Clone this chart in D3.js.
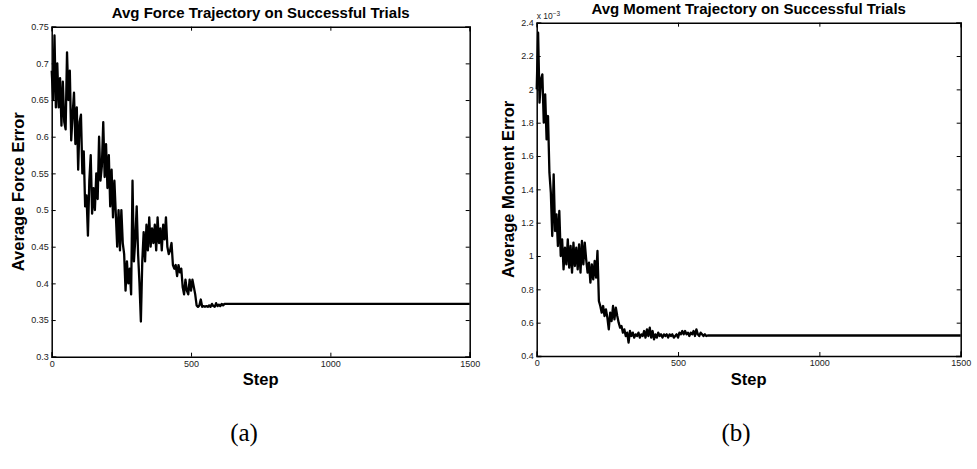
<!DOCTYPE html>
<html><head><meta charset="utf-8">
<script src="https://cdn.jsdelivr.net/npm/d3@7"></script>
<style>body{margin:0;background:#fff}svg{display:block}</style>
</head><body>
<script>
// ---------- data ----------
const xTicks = [0, 500, 1000, 1500];
const forceTicks = [0.3,0.35,0.4,0.45,0.5,0.55,0.6,0.65,0.7,0.75];
const forceTickLabels = ["0.3","0.35","0.4","0.45","0.5","0.55","0.6","0.65","0.7","0.75"];
const momentTicks = [0.4,0.6,0.8,1,1.2,1.4,1.6,1.8,2,2.2,2.4];
const momentTickLabels = ["0.4","0.6","0.8","1","1.2","1.4","1.6","1.8","2","2.2","2.4"];

const forceSteps = [0,5,10,15,20,25,30,35,40,45,50,55,60,65,70,75,80,85,90,95,100,105,110,115,120,125,130,135,140,145,150,155,160,165,170,175,180,185,190,195,200,205,210,215,220,225,230,235,240,245,250,255,260,265,270,275,280,285,290,295,300,305,310,315,320,325,330,335,340,345,350,355,360,365,370,375,380,385,390,395,400,405,410,415,420,425,430,435,440,445,450,455,460,465,470,475,480,485,490,495,500,505,510,515,520,525,530,535,540,545,550,555,560,565,570,575,580,585,590,595,600,605,610,615,620,1500];
const forceValues = [0.69,0.65,0.738,0.64,0.70,0.64,0.68,0.615,0.675,0.62,0.61,0.715,0.65,0.69,0.595,0.63,0.66,0.59,0.64,0.555,0.62,0.63,0.55,0.58,0.505,0.52,0.465,0.54,0.575,0.495,0.53,0.50,0.55,0.515,0.60,0.54,0.56,0.62,0.545,0.59,0.53,0.575,0.505,0.555,0.49,0.54,0.495,0.45,0.50,0.445,0.50,0.455,0.44,0.39,0.43,0.40,0.42,0.385,0.54,0.43,0.46,0.505,0.44,0.40,0.348,0.43,0.47,0.43,0.48,0.445,0.49,0.45,0.475,0.455,0.48,0.445,0.49,0.455,0.475,0.445,0.48,0.46,0.49,0.45,0.44,0.445,0.455,0.425,0.42,0.425,0.41,0.425,0.415,0.42,0.395,0.385,0.405,0.39,0.385,0.405,0.39,0.405,0.395,0.385,0.37,0.368,0.37,0.378,0.368,0.369,0.368,0.369,0.368,0.37,0.368,0.372,0.369,0.368,0.373,0.369,0.371,0.369,0.372,0.37,0.372,0.372];

const momentSteps = [0,5,10,15,20,25,30,35,40,45,50,55,60,65,70,75,80,85,90,95,100,105,110,115,120,125,130,135,140,145,150,155,160,165,170,175,180,185,190,195,200,205,210,215,220,225,230,235,240,245,250,255,260,265,270,275,280,285,290,295,300,305,310,315,320,325,330,335,340,345,350,355,360,365,370,375,380,385,390,395,400,405,410,415,420,425,430,435,440,445,450,455,460,465,470,475,480,485,490,495,500,505,510,515,520,525,530,535,540,545,550,555,560,565,570,575,580,585,590,595,600,605,1500];
const momentValues = [2.0,2.34,1.92,2.06,2.09,1.80,1.97,1.70,1.84,1.50,1.38,1.12,1.49,1.15,1.25,1.06,1.27,1.00,1.10,0.92,1.05,0.95,1.10,0.93,1.06,0.90,1.08,0.94,1.05,0.92,1.07,0.90,1.09,0.95,1.08,0.98,0.90,0.96,0.84,0.95,0.86,0.97,0.87,1.03,0.73,0.70,0.66,0.70,0.64,0.68,0.63,0.56,0.66,0.61,0.70,0.62,0.69,0.64,0.60,0.57,0.58,0.54,0.56,0.52,0.54,0.48,0.55,0.52,0.54,0.51,0.53,0.52,0.54,0.51,0.53,0.52,0.55,0.51,0.56,0.52,0.57,0.51,0.55,0.50,0.53,0.51,0.54,0.52,0.53,0.51,0.53,0.52,0.53,0.51,0.53,0.52,0.53,0.51,0.52,0.53,0.51,0.54,0.53,0.55,0.53,0.55,0.53,0.54,0.52,0.54,0.53,0.55,0.52,0.56,0.53,0.52,0.54,0.53,0.52,0.53,0.52,0.523,0.523];

const panels = [
  {title:"Avg Force Trajectory on Successful Trials", ylabel:"Average Force Error", steps:forceSteps, values:forceValues,
   yDomain:[0.3,0.75], yTicks:forceTicks, yLabels:forceTickLabels, caption:"(a)", exp:false},
  {title:"Avg Moment Trajectory on Successful Trials", ylabel:"Average Moment Error", steps:momentSteps, values:momentValues,
   yDomain:[0.4,2.4], yTicks:momentTicks, yLabels:momentTickLabels, caption:"(b)", exp:true}
];
// ---------- layout ----------
const boxes = [
  {l:51.7, r:469.7, t:26.7, b:356.7, titleY:18, ylabX:18, capX:244},
  {l:536.7, r:960.7, t:22.7, b:356, titleY:14, ylabX:508, capX:736}
];

const svg = d3.select("body").append("svg").attr("width",977).attr("height",469);
const sans = "'Liberation Sans', Arial, Helvetica, sans-serif";

panels.forEach((p,i)=>{
  const B = boxes[i];
  const x = d3.scaleLinear().domain([0,1500]).range([B.l,B.r]);
  const y = d3.scaleLinear().domain(p.yDomain).range([B.b,B.t]);
  const g = svg.append("g");

  // data line
  const line = d3.line().x((d,k)=>x(p.steps[k])).y(d=>y(d));
  g.append("path").datum(p.values).attr("d",line)
    .attr("fill","none").attr("stroke","#000").attr("stroke-width",2.3).attr("stroke-linejoin","round");

  // axes (box with inward ticks)
  const axL = d3.axisLeft(y).tickValues(p.yTicks).tickSize(-4).tickFormat((d,k)=>p.yLabels[k]).tickPadding(3);
  const axR = d3.axisRight(y).tickValues(p.yTicks).tickSize(-4).tickFormat("");
  const axB = d3.axisBottom(x).tickValues(xTicks).tickSize(-4).tickFormat(d3.format("d")).tickPadding(4);
  const axT = d3.axisTop(x).tickValues(xTicks).tickSize(-4).tickFormat("");
  const styleAx = sel => {
    sel.selectAll(".domain").attr("stroke","#000").attr("stroke-width",1.5);
    sel.selectAll(".tick line").attr("stroke","#000").attr("stroke-width",1);
    sel.selectAll(".tick text").attr("font-family",sans).attr("font-size",9).attr("fill","#222");
  };
  g.append("g").attr("transform",`translate(${B.l},0)`).call(axL).call(styleAx);
  g.append("g").attr("transform",`translate(${B.r},0)`).call(axR).call(styleAx);
  g.append("g").attr("transform",`translate(0,${B.b})`).call(axB).call(styleAx);
  g.append("g").attr("transform",`translate(0,${B.t})`).call(axT).call(styleAx);
  svg.selectAll(".domain").attr("stroke-linecap","square");

  // title
  g.append("text").attr("x",(B.l+B.r)/2).attr("y",B.titleY).attr("text-anchor","middle")
    .attr("font-family",sans).attr("font-weight","bold").attr("font-size",15).text(p.title);
  // x label
  g.append("text").attr("x",(B.l+B.r)/2).attr("y",385).attr("text-anchor","middle")
    .attr("font-family",sans).attr("font-weight","bold").attr("font-size",16.5).text("Step");
  // y label
  g.append("text").attr("transform",`translate(${B.ylabX+6},${(B.t+B.b)/2}) rotate(-90)`).attr("text-anchor","middle")
    .attr("font-family",sans).attr("font-weight","bold").attr("font-size",16.5).text(p.ylabel);
  // exponent
  if (p.exp) {
    const t = g.append("text").attr("x",B.l).attr("y",B.t-4).attr("font-family",sans).attr("font-size",8.5).attr("fill","#222");
    t.append("tspan").text("x 10");
    t.append("tspan").attr("dy",-3).attr("font-size",6.5).text("−3");
  }
  // caption
  svg.append("text").attr("x",B.capX).attr("y",441).attr("text-anchor","middle")
    .attr("font-family","'Liberation Serif', 'DejaVu Serif', serif").attr("font-size",25).text(p.caption);
});
</script>
</body></html>
